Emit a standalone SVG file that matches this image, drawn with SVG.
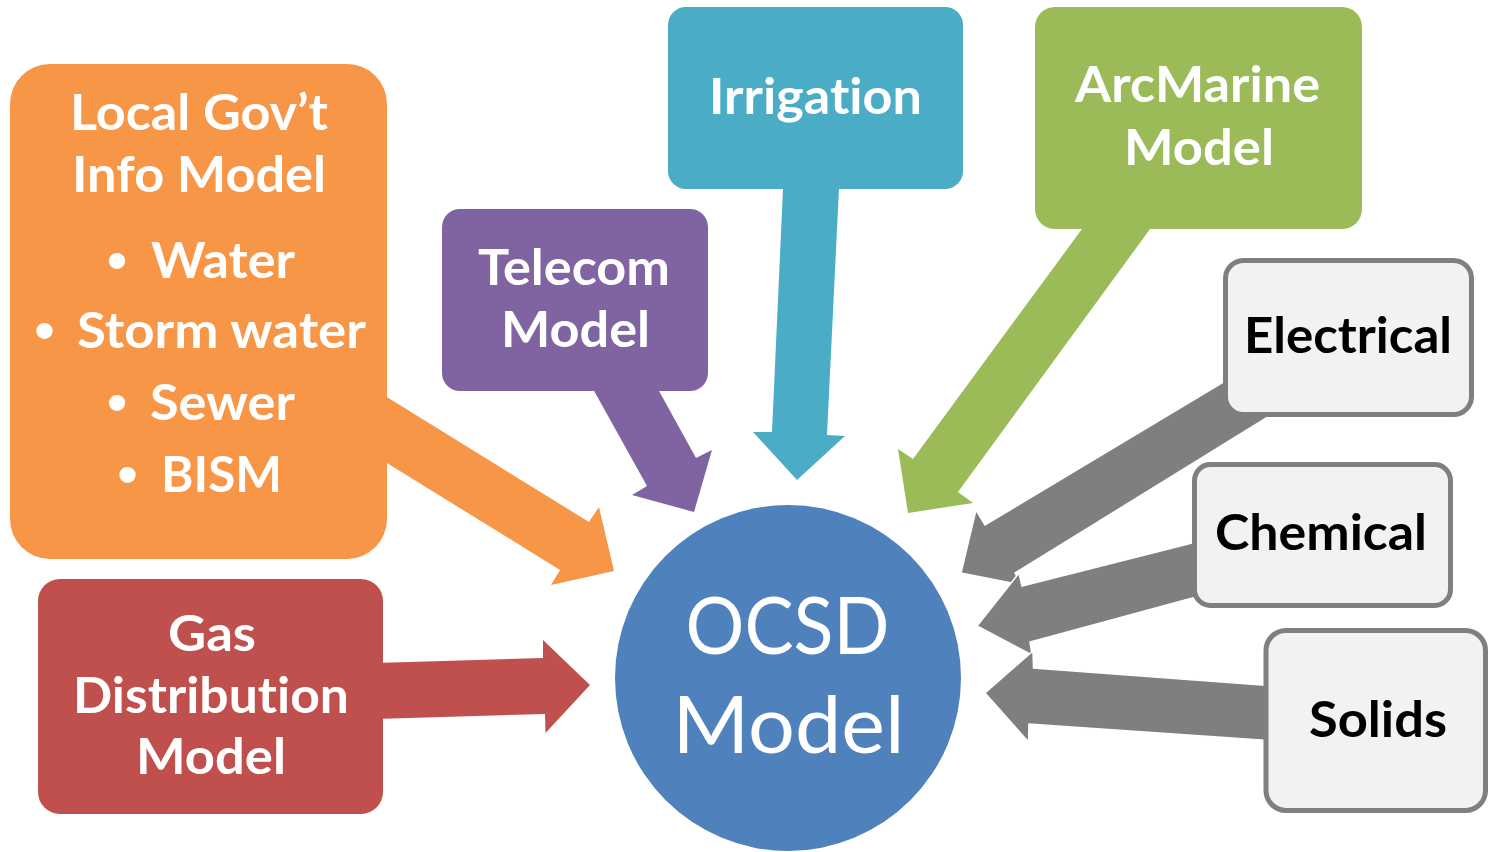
<svg xmlns="http://www.w3.org/2000/svg" width="1489" height="852" viewBox="0 0 1489 852">
<style>
text{font-variant-ligatures:none;font-feature-settings:"liga" 0,"clig" 0}
.lbl{font-family:Lato,"Liberation Sans",sans-serif;font-weight:700;font-size:49px;fill:#fff;text-anchor:middle}
.lblL{font-family:Lato,"Liberation Sans",sans-serif;font-weight:700;font-size:49px;fill:#fff}
.dark{fill:#000}
.bul{font-family:"Liberation Sans",Arial,sans-serif;font-size:60px;fill:#fff;text-anchor:middle}
.big{font-family:Lato,"Liberation Sans",sans-serif;font-weight:400;font-size:80px;fill:#fff;text-anchor:middle}
.gray{fill:#7F7F7F;stroke:#fff;stroke-width:1.5;stroke-linejoin:miter}
.gbox{fill:#F2F2F2;stroke:#7F7F7F;stroke-width:5}
</style>
<rect width="1489" height="852" fill="#fff"/>
<g id="connectors">
  <polygon fill="#F79646" points="380,392.7 589,522 599,507 614,571 551,585 560,570 380,458.7"/>
  <polygon fill="#8064A2" points="588,380 653,380 696,458 712,450 694,512 632,495 647,486"/>
  <polygon fill="#4BACC6" points="783.4,180 839.4,180 827,435 845,436 797,480 753,432 772,432"/>
  <polygon fill="#9BBB59" points="1088.6,220 1156.6,220 958,492 973,503 908,513 898,449 913,459"/>
  <polygon fill="#C0504D" points="375,663 543,658 543,640 590,685 545.5,733 545,714 375,719"/>
  <polygon class="gray" points="1240,372.2 985,525 976,510 961,573 1022,585 1015,573 1290,403.4"/>
  <polygon class="gray" points="1210,538.4 1022,586 1019,573 977,626 1032,655 1030,642 1210,593.1"/>
  <polygon class="gray" points="1280,686.3 1033.5,668 1033,651 985,693 1028.5,742 1029,724 1280,741.2"/>
</g>
<g id="local-govt">
  <rect x="10" y="64" width="377" height="495" rx="40" fill="#F79646"/>
  <text class="lbl" x="199" y="130" textLength="258" lengthAdjust="spacingAndGlyphs">Local Gov’t</text>
  <text class="lbl" x="199" y="192" textLength="254" lengthAdjust="spacingAndGlyphs">Info Model</text>
  <text class="bul" x="117" y="281">•</text>
  <text class="lblL" x="151" y="278" textLength="144" lengthAdjust="spacingAndGlyphs">Water</text>
  <text class="bul" x="44.5" y="351">•</text>
  <text class="lblL" x="77" y="348" textLength="289" lengthAdjust="spacingAndGlyphs">Storm water</text>
  <text class="bul" x="117" y="423">•</text>
  <text class="lblL" x="150" y="420" textLength="145" lengthAdjust="spacingAndGlyphs">Sewer</text>
  <text class="bul" x="127.5" y="495">•</text>
  <text class="lblL" x="161" y="492" textLength="121" lengthAdjust="spacingAndGlyphs">BISM</text>
</g>
<g id="telecom">
  <rect x="442" y="209" width="266" height="182" rx="18" fill="#8064A2"/>
  <text class="lbl" x="574" y="285" textLength="192" lengthAdjust="spacingAndGlyphs">Telecom</text>
  <text class="lbl" x="575.5" y="347" textLength="149" lengthAdjust="spacingAndGlyphs">Model</text>
</g>
<g id="irrigation">
  <rect x="668" y="7" width="295" height="182" rx="18" fill="#4BACC6"/>
  <text class="lbl" x="815.5" y="114" textLength="213" lengthAdjust="spacingAndGlyphs">Irrigation</text>
</g>
<g id="arcmarine">
  <rect x="1035" y="7" width="327" height="222" rx="20" fill="#9BBB59"/>
  <text class="lbl" x="1197.5" y="102" textLength="245" lengthAdjust="spacingAndGlyphs">ArcMarine</text>
  <text class="lbl" x="1199" y="165" textLength="150" lengthAdjust="spacingAndGlyphs">Model</text>
</g>
<g id="gas">
  <rect x="38" y="579" width="345" height="235" rx="22" fill="#C0504D"/>
  <text class="lbl" x="212" y="651" textLength="88" lengthAdjust="spacingAndGlyphs">Gas</text>
  <text class="lbl" x="211" y="713" textLength="276" lengthAdjust="spacingAndGlyphs">Distribution</text>
  <text class="lbl" x="211" y="774" textLength="150" lengthAdjust="spacingAndGlyphs">Model</text>
</g>
<g id="electrical">
  <rect class="gbox" x="1225.5" y="260.5" width="246" height="154" rx="18"/>
  <text class="lbl dark" x="1348" y="353" textLength="208" lengthAdjust="spacingAndGlyphs">Electrical</text>
</g>
<g id="chemical">
  <rect class="gbox" x="1194.5" y="464.5" width="256" height="141" rx="16"/>
  <text class="lbl dark" x="1321" y="550" textLength="212" lengthAdjust="spacingAndGlyphs">Chemical</text>
</g>
<g id="solids">
  <rect class="gbox" x="1266" y="630.5" width="219.5" height="180" rx="20"/>
  <text class="lbl dark" x="1378" y="737" textLength="138" lengthAdjust="spacingAndGlyphs">Solids</text>
</g>
<g id="ocsd">
  <circle cx="788" cy="678" r="173" fill="#4F81BD"/>
  <text class="big" x="787.5" y="654" textLength="204" lengthAdjust="spacingAndGlyphs">OCSD</text>
  <text class="big" x="788.5" y="753" textLength="232" lengthAdjust="spacingAndGlyphs">Model</text>
</g>
</svg>
